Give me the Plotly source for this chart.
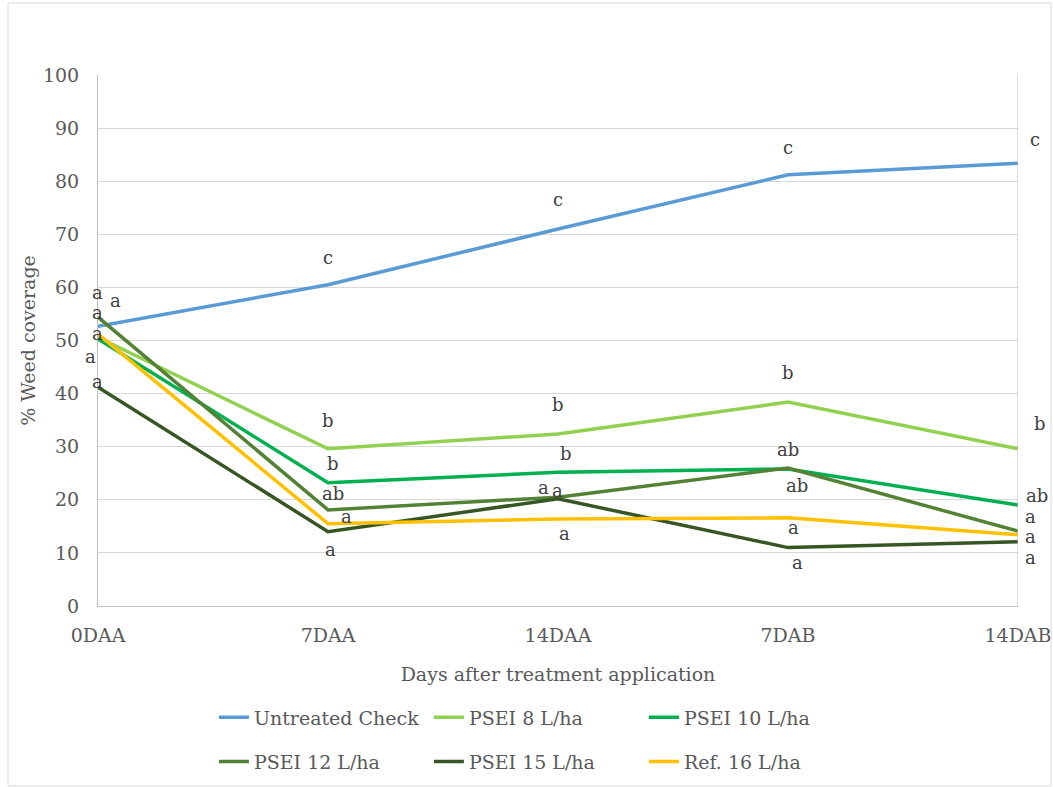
import plotly.graph_objects as go

categories = ["0DAA", "7DAA", "14DAA", "7DAB", "14DAB"]
series_names = ["Untreated Check", "PSEI 8 L/ha", "PSEI 10 L/ha",
                "PSEI 12 L/ha", "PSEI 15 L/ha", "Ref. 16 L/ha"]
untreated = [52.7, 60.5, 71.0, 81.2, 83.4]
psei8 = [50.6, 29.6, 32.4, 38.4, 29.6]
psei10 = [50.3, 23.2, 25.2, 25.8, 19.0]
psei12 = [54.4, 18.1, 20.5, 26.0, 14.1]
psei15 = [41.2, 14.0, 20.2, 11.0, 12.1]
ref16 = [51.2, 15.5, 16.4, 16.6, 13.4]
values = [untreated, psei8, psei10, psei12, psei15, ref16]
colors = ["#5B9BD5", "#92D050", "#00B050", "#548235", "#375623", "#FFC000"]

# significance letters per category (top to bottom as drawn)
letters = [
    ["a", "a", "a", "a", "a", "a"],
    ["c", "b", "b", "ab", "a", "a"],
    ["c", "b", "b", "a", "a", "a"],
    ["c", "b", "ab", "ab", "a", "a"],
    ["c", "b", "ab", "a", "a", "a"],
]
# label placement (y in data units, x shift in px)
label_y = [
    [59.1, 57.6, 55.3, 51.4, 46.9, 42.2],
    [65.7, 35.0, 26.9, 21.1, 16.9, 10.7],
    [76.5, 38.0, 28.8, 22.4, 21.8, 13.6],
    [86.4, 43.9, 29.4, 22.6, 14.7, 8.1],
    [87.8, 34.3, 20.9, 16.9, 13.0, 9.2],
]
label_dx = [
    [-1, 17, -1, -1, -8, -1],
    [0, 0, 5, 5, 18, 2],
    [0, 0, 8, -15, -1, 6],
    [0, 0, 0, 9, 5, 9],
    [17, 22, 19, 12, 12, 12],
]

FONT = "DejaVu Serif, Liberation Serif, serif"
GRAY = "#595959"
FS = 19

fig = go.Figure()
for i, (name, vals, col) in enumerate(zip(series_names, values, colors)):
    fig.add_trace(go.Scatter(
        x=categories, y=vals, mode="lines", name=name,
        line=dict(color=col, width=3.5),
        legend="legend" if i < 3 else "legend2",
    ))

annotations = []
for ci, cat in enumerate(categories):
    for li, txt in enumerate(letters[ci]):
        annotations.append(dict(
            x=cat, y=label_y[ci][li], xref="x", yref="y", text=txt,
            showarrow=False, xshift=label_dx[ci][li],
            font=dict(family=FONT, size=18, color="#404040"),
        ))

fig.update_layout(
    width=1053, height=787,
    paper_bgcolor="white", plot_bgcolor="white",
    margin=dict(l=98, r=35, t=75, b=181, autoexpand=False),
    font=dict(family=FONT, size=FS, color=GRAY),
    annotations=annotations,
    legend=dict(orientation="h", x=0.126, y=-0.21, xanchor="left", yanchor="middle",
                entrywidth=170, entrywidthmode="pixels",
                font=dict(family=FONT, size=FS, color=GRAY), bgcolor="rgba(0,0,0,0)"),
    legend2=dict(orientation="h", x=0.126, y=-0.293, xanchor="left", yanchor="middle",
                 entrywidth=170, entrywidthmode="pixels",
                 font=dict(family=FONT, size=FS, color=GRAY), bgcolor="rgba(0,0,0,0)"),
    shapes=[
        dict(type="rect", xref="paper", yref="paper", x0=-0.0978, x1=1.0359,
             y0=-0.339, y1=1.1356, line=dict(color="#d9d9d9", width=1)),
        dict(type="line", xref="x", yref="paper", x0=4, x1=4, y0=0, y1=1,
             line=dict(color="#bfbfbf", width=1)),
    ],
)
fig.update_xaxes(
    type="category", range=[0, 4], showgrid=False, automargin=False,
    showline=True, linecolor="#bfbfbf", linewidth=1,
    ticks="", ticklabelstandoff=12, tickfont=dict(family=FONT, size=FS, color=GRAY),
    title=dict(text="Days after treatment application", standoff=22,
               font=dict(family=FONT, size=FS, color=GRAY)),
)
fig.update_yaxes(
    range=[0, 100], dtick=10, showgrid=True, gridcolor="#d9d9d9", gridwidth=1,
    showline=True, linecolor="#bfbfbf", linewidth=1, zeroline=False, automargin=False,
    ticks="", ticklabelstandoff=14, tickfont=dict(family=FONT, size=FS, color=GRAY),
    title=dict(text="% Weed coverage", standoff=2,
               font=dict(family=FONT, size=FS, color=GRAY)),
)

fig.write_html("out.html", config={"displayModeBar": False},
               post_script="document.body.style.margin='0';document.body.style.overflow='hidden';")
